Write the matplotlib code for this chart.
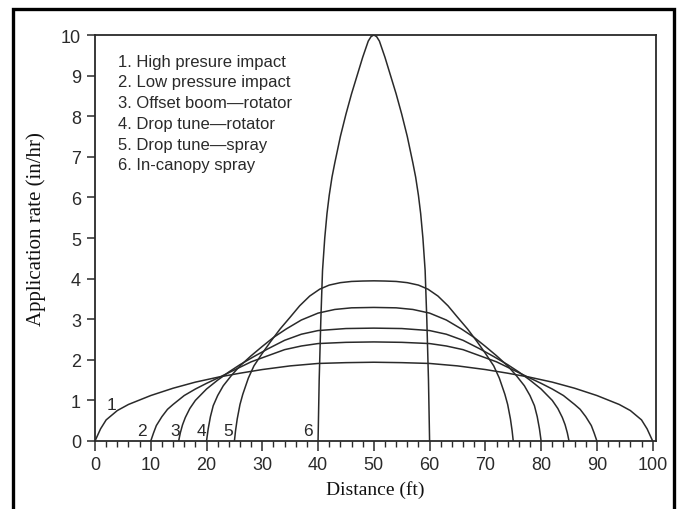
import matplotlib
matplotlib.use("Agg")
import matplotlib.pyplot as plt
from matplotlib.patches import Rectangle
from matplotlib.ticker import MultipleLocator

# ---- data ----
legend_lines = ["1. High presure impact", "2. Low pressure impact", "3. Offset boom\u2014rotator",
                "4. Drop tune\u2014rotator", "5. Drop tune\u2014spray", "6. In-canopy spray"]

c1_x = [0, 1, 2, 4, 6, 10, 14, 18, 22, 26, 30, 35, 40, 45, 50,
        55, 60, 65, 70, 74, 78, 82, 86, 90, 94, 96, 98, 99, 100]
c1_y = [0, 0.3, 0.52, 0.75, 0.9, 1.12, 1.3, 1.45, 1.57, 1.67, 1.76, 1.85, 1.91, 1.93, 1.94,
        1.93, 1.91, 1.85, 1.76, 1.67, 1.57, 1.45, 1.3, 1.12, 0.9, 0.75, 0.52, 0.3, 0]

c2_x = [10, 10.5, 11, 12, 13, 14, 16, 18, 20, 22, 25, 28, 31, 34, 37, 40, 45, 50,
        55, 60, 63, 66, 69, 72, 75, 78, 80, 82, 84, 86, 87, 88, 89, 89.5, 90]
c2_y = [0, 0.2, 0.38, 0.6, 0.78, 0.9, 1.12, 1.28, 1.42, 1.55, 1.75, 1.95, 2.1, 2.25, 2.34, 2.4, 2.43, 2.44,
        2.43, 2.4, 2.34, 2.25, 2.1, 1.95, 1.75, 1.55, 1.42, 1.28, 1.12, 0.9, 0.78, 0.6, 0.38, 0.2, 0]

c3_x = [15, 15.3, 15.7, 16.2, 17, 18, 20, 22, 24, 26, 28.5, 31, 34, 37, 40, 45, 50,
        55, 60, 63, 66, 69, 71.5, 74, 76, 78, 80, 82, 83, 83.8, 84.3, 84.7, 85]
c3_y = [0, 0.2, 0.4, 0.58, 0.8, 1.0, 1.28, 1.5, 1.7, 1.88, 2.08, 2.27, 2.48, 2.63, 2.72, 2.77, 2.78,
        2.77, 2.72, 2.63, 2.48, 2.27, 2.08, 1.88, 1.7, 1.5, 1.28, 1.0, 0.8, 0.58, 0.4, 0.2, 0]

c4_x = [20, 20.3, 20.7, 21.2, 22, 23, 24.5, 26, 28, 30, 32, 34.3, 37, 40, 43, 46, 50,
        54, 57, 60, 63, 65.7, 68, 70, 72, 74, 75.5, 77, 78, 78.8, 79.3, 79.7, 80]
c4_y = [0, 0.3, 0.6, 0.87, 1.12, 1.36, 1.62, 1.85, 2.1, 2.33, 2.55, 2.76, 2.98, 3.15, 3.24, 3.28, 3.29,
        3.28, 3.24, 3.15, 2.98, 2.76, 2.55, 2.33, 2.1, 1.85, 1.62, 1.36, 1.12, 0.87, 0.6, 0.3, 0]

c5_x = [25, 25.2, 25.5, 26, 26.5, 27.5, 28.5, 30, 31.5, 33.2, 35, 36.7, 38.5, 40.3, 42, 44, 46, 48, 50,
        52, 54, 56, 58, 59.7, 61.5, 63.3, 65, 66.8, 68.5, 70, 71.5, 72.5, 73.5, 74, 74.5, 74.8, 75]
c5_y = [0, 0.25, 0.54, 0.9, 1.15, 1.55, 1.85, 2.16, 2.45, 2.76, 3.05, 3.33, 3.57, 3.74, 3.84, 3.9, 3.93, 3.94, 3.945,
        3.94, 3.93, 3.9, 3.84, 3.74, 3.57, 3.33, 3.05, 2.76, 2.45, 2.16, 1.85, 1.55, 1.15, 0.9, 0.54, 0.25, 0]

c6_x = [40, 40.2, 40.5, 40.8, 41.2, 41.6, 42, 42.5, 43, 44, 45, 46, 47, 48, 49, 49.5, 50,
        50.5, 51, 52, 53, 54, 55, 56, 57, 57.5, 58, 58.4, 58.8, 59.2, 59.5, 59.8, 60]
c6_y = [0, 1.5, 3.0, 4.2, 5.0, 5.6, 6.05, 6.5, 6.85, 7.5, 8.05, 8.55, 9.0, 9.45, 9.85, 9.96, 10,
        9.96, 9.85, 9.45, 9.0, 8.55, 8.05, 7.5, 6.85, 6.5, 6.05, 5.6, 5.0, 4.2, 3.0, 1.5, 0]

curves = [(c1_x, c1_y), (c2_x, c2_y), (c3_x, c3_y), (c4_x, c4_y), (c5_x, c5_y), (c6_x, c6_y)]

curve_labels = ["1", "2", "3", "4", "5", "6"]
label_x = [3.0, 8.4, 14.3, 19.1, 23.9, 38.2]
label_y = [0.91, 0.27, 0.27, 0.27, 0.27, 0.27]

x_ticks = [0, 10, 20, 30, 40, 50, 60, 70, 80, 90, 100]
y_ticks = [0, 1, 2, 3, 4, 5, 6, 7, 8, 9, 10]

# ---- drawing ----
W, H = 679, 510
fig = plt.figure(figsize=(W / 100, H / 100), dpi=100)
ax = fig.add_axes([95 / W, 1 - 442 / H, (656 - 95) / W, (442 - 36) / H])

ink = "#2a2a2a"
for xs, ys in curves:
    ax.plot(xs, ys, color=ink, lw=1.1, solid_joinstyle="round")

for t, x, y in zip(curve_labels, label_x, label_y):
    ax.text(x, y, t, ha="center", va="center", fontsize=12.5,
            family="Liberation Sans", color=ink)

for i, line in enumerate(legend_lines):
    fig.text(118 / W, 1 - (62 + i * 20.8) / H, line, fontsize=12,
             family="Liberation Sans", color=ink, va="center", ha="left")

ax.set_xlim(0, 100.6)
ax.set_ylim(0, 10)
ax.set_xticks(x_ticks)
ax.set_yticks(y_ticks)
ax.xaxis.set_minor_locator(MultipleLocator(2))
ax.tick_params(axis="both", which="major", direction="out", color=ink, width=1.1,
               labelsize=13, labelcolor=ink)
ax.tick_params(axis="x", which="major", length=7, pad=4)
ax.tick_params(axis="x", which="minor", length=4, width=1.0, color=ink)
ax.tick_params(axis="y", which="major", length=6, pad=4)
for lab in ax.get_xticklabels() + ax.get_yticklabels():
    lab.set_family("Liberation Sans")
for sp in ax.spines.values():
    sp.set_color(ink)
    sp.set_linewidth(1.3)

ax.set_xlabel("Distance (ft)", family="Liberation Serif", fontsize=14, color="#111111")
ax.set_ylabel("Application rate (in/hr)", family="Liberation Serif", fontsize=15,
              color="#111111")
ax.xaxis.set_label_coords(0.5, -0.095)
ax.yaxis.set_label_coords(-0.087, 0.525)

# outer scan frame
fig.patches.append(Rectangle((13 / W, -0.05), (674 - 13) / W, 1.05 - 10 / H,
                             transform=fig.transFigure, fill=False, edgecolor="black",
                             linewidth=2.4))

fig.savefig("out.png", dpi=100, facecolor="white")
